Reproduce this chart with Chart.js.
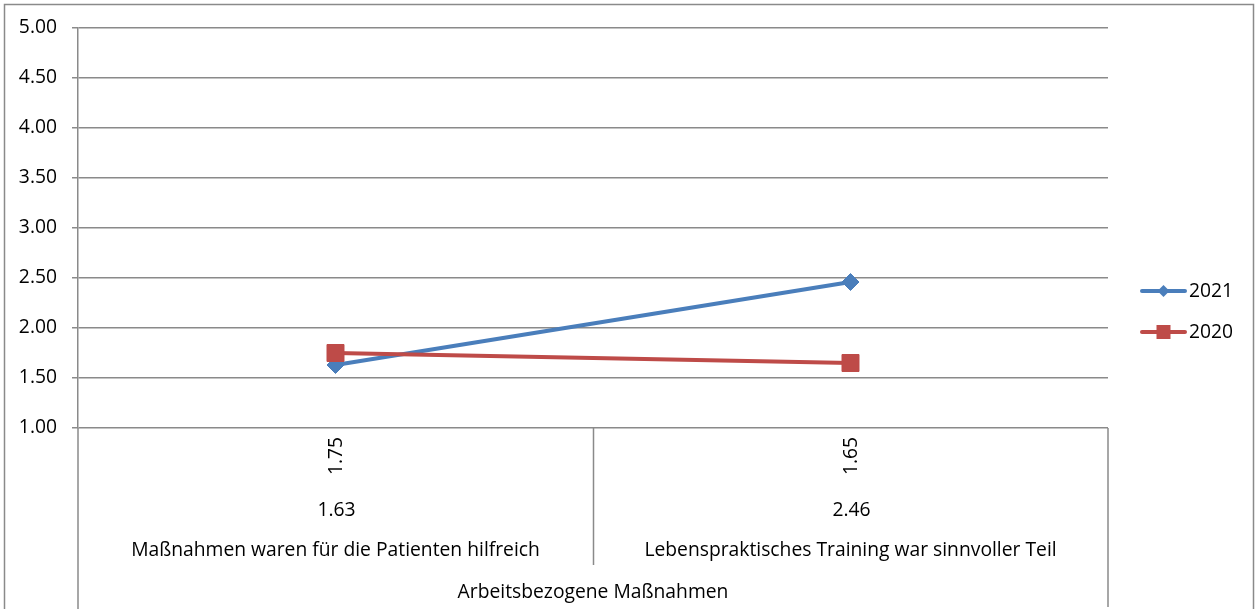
<!DOCTYPE html>
<html lang="de">
<head>
<meta charset="utf-8">
<title>Arbeitsbezogene Maßnahmen</title>
<script src="https://cdn.jsdelivr.net/npm/chart.js@4/dist/chart.umd.min.js"></script>
<style>
  html, body { margin: 0; padding: 0; background: #ffffff; }
  #wrap { position: relative; width: 1255px; height: 609px; }
</style>
</head>
<body>
<div id="wrap"><canvas id="chart"></canvas></div>
<script>
// Categories (two levels: item and group)
const categories = [
  'Maßnahmen waren für die Patienten hilfreich',
  'Lebenspraktisches Training war sinnvoller Teil'
];
const groupLabel = 'Arbeitsbezogene Maßnahmen';

// Series values
const series2021 = [1.63, 2.46];
const series2020 = [1.75, 1.65];
const seriesNames = ['2021', '2020'];

// Value axis ticks
const yMin = 1.0;
const yMax = 5.0;
const yStep = 0.5;

const FONT = '"Open Sans", "Noto Sans", sans-serif';
const FSIZE = 19.3;
const GRID = '#8a8a8a';
const BLUE = '#4A7EBB';
const RED = '#BE4B48';

// Table under the plot, frame and legend
const extras = {
  id: 'extras',
  beforeDraw(chart) {
    const ctx = chart.ctx;
    ctx.save();
    ctx.strokeStyle = GRID;
    ctx.lineWidth = 1.5;
    ctx.beginPath();
    ctx.moveTo(4.5, 609);
    ctx.lineTo(4.5, 4.5);
    ctx.lineTo(1253.5, 4.5);
    ctx.lineTo(1253.5, 609);
    ctx.stroke();
    ctx.restore();
  },
  afterDraw(chart) {
    const ctx = chart.ctx;
    const area = chart.chartArea;
    const xs = chart.scales.x;
    const p0 = xs.getPixelForValue(0);
    const p1 = xs.getPixelForValue(1);
    const sep = (p0 + p1) / 2;

    ctx.save();
    ctx.strokeStyle = GRID;
    ctx.lineWidth = 1.5;
    ctx.beginPath();
    ctx.moveTo(Math.round(area.left), area.bottom);
    ctx.lineTo(Math.round(area.left), 609);
    ctx.moveTo(Math.round(sep) + 0.5, area.bottom);
    ctx.lineTo(Math.round(sep) + 0.5, 565);
    ctx.moveTo(Math.round(area.right), area.bottom);
    ctx.lineTo(Math.round(area.right), 607);
    ctx.stroke();

    ctx.fillStyle = '#000000';
    ctx.font = FSIZE + 'px ' + FONT;
    ctx.textAlign = 'center';
    ctx.textBaseline = 'middle';
    categories.forEach((c, i) => {
      const x = xs.getPixelForValue(i);
      // rotated row: 2020 values
      ctx.save();
      ctx.translate(x + 1, 456);
      ctx.rotate(-Math.PI / 2);
      ctx.fillText(series2020[i].toFixed(2), 0, 0);
      ctx.restore();
      // 2021 values
      ctx.fillText(series2021[i].toFixed(2), x + 1, 511);
      // category names
      ctx.fillText(c, x, 551);
    });
    ctx.fillText(groupLabel, (area.left + area.right) / 2, 593);

    // legend
    const items = [
      { label: seriesNames[0], color: BLUE, shape: 'diamond', y: 291 },
      { label: seriesNames[1], color: RED, shape: 'square', y: 332 }
    ];
    items.forEach(it => {
      ctx.strokeStyle = it.color;
      ctx.lineWidth = 4;
      ctx.lineCap = 'round';
      ctx.beginPath();
      ctx.moveTo(1142, it.y);
      ctx.lineTo(1185, it.y);
      ctx.stroke();
      ctx.fillStyle = it.color;
      ctx.beginPath();
      const cx = 1163.5;
      if (it.shape === 'diamond') {
        const r = 6;
        ctx.moveTo(cx - r, it.y);
        ctx.lineTo(cx, it.y - r);
        ctx.lineTo(cx + r, it.y);
        ctx.lineTo(cx, it.y + r);
        ctx.closePath();
      } else {
        ctx.rect(cx - 7, it.y - 7, 14, 14);
      }
      ctx.fill();
      ctx.fillStyle = '#000000';
      ctx.textAlign = 'left';
      ctx.fillText(it.label, 1189, it.y + 1);
    });
    ctx.restore();
  }
};

new Chart(document.getElementById('chart'), {
  type: 'line',
  data: {
    labels: categories,
    datasets: [
      {
        label: seriesNames[0],
        data: series2021,
        borderColor: BLUE,
        backgroundColor: BLUE,
        borderWidth: 4,
        pointStyle: 'rectRot',
        pointRadius: 8.5,
        pointHoverRadius: 8.5,
        pointBorderWidth: 1,
        order: 1
      },
      {
        label: seriesNames[1],
        data: series2020,
        borderColor: RED,
        backgroundColor: RED,
        borderWidth: 4,
        pointStyle: 'rect',
        pointRadius: 12,
        pointHoverRadius: 12,
        pointBorderWidth: 1,
        order: 0
      }
    ]
  },
  options: {
    responsive: true,
    maintainAspectRatio: false,
    animation: false,
    layout: { padding: { left: 0, top: 28, right: 147, bottom: 181 } },
    plugins: {
      legend: { display: false },
      tooltip: { enabled: false }
    },
    scales: {
      x: {
        type: 'category',
        offset: true,
        display: false
      },
      y: {
        min: yMin,
        max: yMax,
        afterFit(scale) { scale.width = 78; },
        ticks: {
          stepSize: yStep,
          color: '#000000',
          font: { family: FONT, size: FSIZE },
          padding: 15,
          callback: v => Number(v).toFixed(2)
        },
        grid: {
          color: GRID,
          lineWidth: 1.5,
          tickLength: 6,
          drawTicks: true
        },
        border: { color: GRID, width: 1.5 }
      }
    }
  },
  plugins: [extras]
});
</script>
</body>
</html>
